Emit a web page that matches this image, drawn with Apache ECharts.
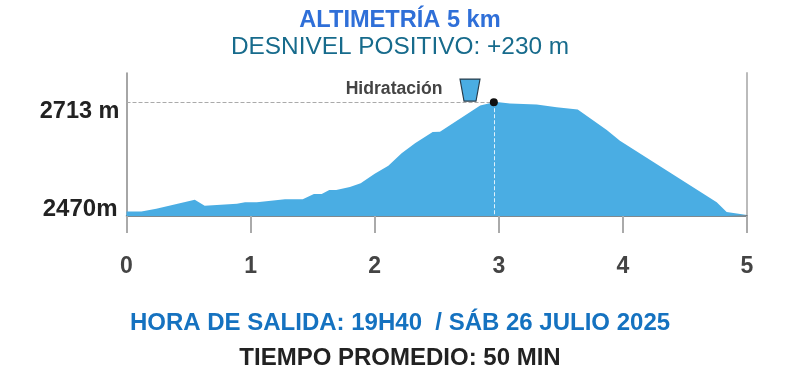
<!DOCTYPE html>
<html><head><meta charset="utf-8">
<style>html,body{margin:0;padding:0;background:#fff}#c{width:800px;height:377px}</style>
<script src="https://cdn.jsdelivr.net/npm/echarts@6/dist/echarts.min.js"></script>
</head><body><div id="c"></div>
<script>
const distanceKm = [0,0.12,0.24,0.55,0.63,0.89,0.955,1.05,1.277,1.42,1.51,1.573,1.634,1.69,1.80,1.887,2.0,2.11,2.217,2.325,2.467,2.526,2.85,2.96,3.0,3.09,3.305,3.466,3.636,3.87,3.976,4.756,4.836,5.0];
const altitudeM = [2470,2470,2476,2496,2483,2487,2490.5,2490.5,2497,2497,2509,2509,2518,2518,2524.5,2533,2554,2572,2599.5,2622,2647,2647.6,2706,2713,2713,2710,2708,2702,2697,2651,2627.5,2490.5,2469,2462];
const peak = [2.96,2713];
const hydration = [2.768,2740];
const yLabels = {2470:'{b|2470m}',2713:'{a|2713 m}'};
const chart = echarts.init(document.getElementById('c'));
const font = '"Liberation Sans", Arial, sans-serif';
const ttl = (text,y,size,weight,color)=>({text,left:'center',top:y,textStyle:{fontFamily:font,fontSize:size,fontWeight:weight,color}});
chart.setOption({
  animation:false,
  backgroundColor:'#fff',
  title:[
    ttl('ALTIMETRÍA 5 km',3,23.6,'bold','#2f6fd8'),
    ttl('DESNIVEL POSITIVO: +230 m',30,24.4,'normal','#176b8c'),
    ttl('HORA DE SALIDA: 19H40  / SÁB 26 JULIO 2025',306,24,'bold','#1572c0'),
    ttl('TIEMPO PROMEDIO: 50 MIN',341,24,'bold','#222222')
  ],
  grid:{left:126.5,right:53,top:73,bottom:161},
  xAxis:{type:'value',min:0,max:5,interval:1,
    axisLine:{lineStyle:{color:'#55636b',width:1.5}},
    axisTick:{length:17,lineStyle:{color:'#aaaaaa',width:2}},
    axisLabel:{margin:39,fontFamily:font,fontSize:23,fontWeight:'bold',color:'#444444'},
    splitLine:{show:false}},
  yAxis:[{type:'value',min:2460,max:2778,
    axisLine:{show:true,lineStyle:{color:'#888888',width:1.5}},
    axisTick:{show:false},splitLine:{show:false},
    axisLabel:{customValues:[2470,2713],margin:7,hideOverlap:false,
      formatter:v=>yLabels[v]||'',
      rich:{a:{fontFamily:font,fontSize:23.5,fontWeight:'bold',color:'#222',padding:[18,0,0,0]},
            b:{fontFamily:font,fontSize:24,fontWeight:'bold',color:'#222',padding:[0,2,5,0]}}}},
   {type:'value',min:2460,max:2778,position:'right',
    axisLine:{show:true,lineStyle:{color:'#bbbbbb',width:2}},
    axisTick:{show:false},axisLabel:{show:false},splitLine:{show:false}}],
  series:[
   {type:'line',data:distanceKm.map((d,i)=>[d,altitudeM[i]]),showSymbol:false,symbol:'none',
    lineStyle:{width:0},areaStyle:{color:'#4aade3',opacity:1},z:2,
    markLine:{silent:true,symbol:'none',label:{show:false},animation:false,
      data:[
       [{coord:[0,peak[1]],lineStyle:{color:'#aaaaaa',type:'dashed',width:1}},{coord:peak}],
       [{coord:peak,lineStyle:{color:'#dff1fb',type:'dashed',width:1}},{coord:[peak[0],2460]}]
      ]}},
   {type:'scatter',data:[peak],symbol:'circle',symbolSize:8,itemStyle:{color:'#111111',opacity:1},z:5},
   {type:'scatter',data:[hydration],symbol:'path://M0 0 L20 0 L16 22 L4 22 Z',symbolSize:[20,22],
    itemStyle:{color:'#4aade3',borderColor:'#263b4a',borderWidth:1.2,opacity:1},z:5,
    label:{show:true,position:'left',distance:17,offset:[0,-1],formatter:'Hidratación',
      fontFamily:font,fontSize:17.6,fontWeight:'bold',color:'#444444'}}
  ]
});
</script></body></html>
